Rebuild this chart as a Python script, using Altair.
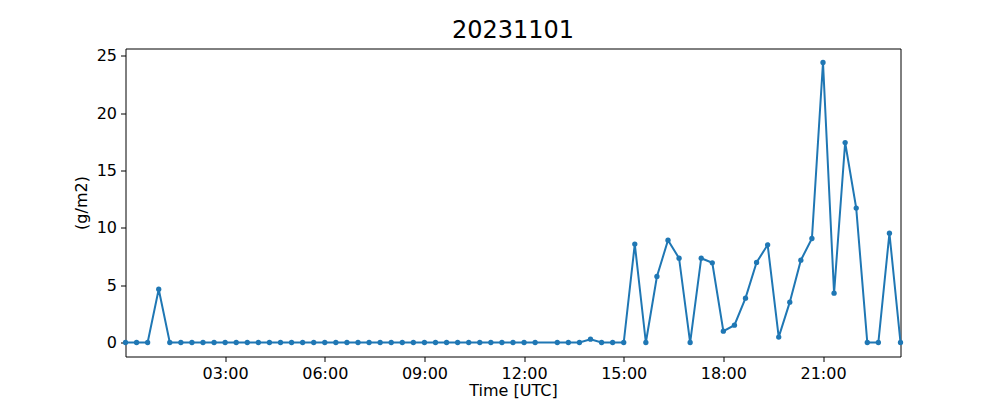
import altair as alt
import pandas as pd

times = [
    "00:00", "00:20", "00:40", "01:00", "01:20", "01:40", "02:00", "02:20", "02:40",
    "03:00", "03:20", "03:40", "04:00", "04:20", "04:40", "05:00", "05:20", "05:40",
    "06:00", "06:20", "06:40", "07:00", "07:20", "07:40", "08:00", "08:20", "08:40",
    "09:00", "09:20", "09:40", "10:00", "10:20", "10:40", "11:00", "11:20", "11:40",
    "12:00", "12:20", "13:00", "13:20", "13:40", "14:00", "14:20", "14:40",
    "15:00", "15:20", "15:40", "16:00", "16:20", "16:40", "17:00", "17:20", "17:40",
    "18:00", "18:20", "18:40", "19:00", "19:20", "19:40", "20:00", "20:20", "20:40",
    "21:00", "21:20", "21:40", "22:00", "22:20", "22:40", "23:00", "23:20",
]
values = [
    0, 0, 0, 4.65, 0, 0, 0, 0, 0,
    0, 0, 0, 0, 0, 0, 0, 0, 0,
    0, 0, 0, 0, 0, 0, 0, 0, 0,
    0, 0, 0, 0, 0, 0, 0, 0, 0,
    0, 0, 0, 0, 0, 0.29, 0, 0,
    0, 8.58, 0, 5.76, 8.92, 7.35, 0, 7.35, 6.95,
    0.99, 1.51, 3.87, 6.98, 8.52, 0.47, 3.52, 7.18, 9.07,
    24.42, 4.30, 17.44, 11.72, 0, 0, 9.53, 0,
]
x_ticks = [3, 6, 9, 12, 15, 18, 21]
y_ticks = [0, 5, 10, 15, 20, 25]

df = pd.DataFrame({"time": times, "value": values})
df["hour"] = df["time"].apply(lambda s: int(s[:2]) + int(s[3:]) / 60.0)

color = "#1f77b4"
font = "DejaVu Sans"

x = alt.X(
    "hour:Q",
    scale=alt.Scale(domain=[0, 23 + 1 / 3], nice=False, zero=False),
    axis=alt.Axis(
        values=x_ticks,
        labelExpr="(datum.value < 10 ? '0' : '') + datum.value + ':00'",
        title="Time [UTC]",
        grid=False,
        domain=False,
        tickColor="black",
        tickSize=5,
        labelPadding=4,
        titlePadding=1,
        labelFontSize=16,
        titleFontSize=16,
        titleFontWeight="normal",
        labelColor="black",
        titleColor="black",
        labelFont=font,
        titleFont=font,
    ),
)
y = alt.Y(
    "value:Q",
    scale=alt.Scale(domain=[-1.22, 25.64], nice=False, zero=False),
    axis=alt.Axis(
        values=y_ticks,
        title="(g/m2)",
        grid=False,
        domain=False,
        tickColor="black",
        tickSize=5,
        labelPadding=4,
        titlePadding=7,
        labelFontSize=16,
        titleFontSize=16,
        titleFontWeight="normal",
        labelColor="black",
        titleColor="black",
        labelFont=font,
        titleFont=font,
    ),
)

base = alt.Chart(df).encode(x=x, y=y)
line = base.mark_line(color=color, strokeWidth=2)
pts = base.mark_point(color=color, filled=True, size=28, opacity=1)

chart = (
    alt.layer(line, pts)
    .properties(
        width=775,
        height=308,
        background="white",
        title=alt.TitleParams(
            "20231101", fontSize=24, font=font, fontWeight="normal", color="black", offset=5
        ),
        autosize=alt.AutoSizeParams(type="none"),
        padding={"left": 117.5, "top": 40.5, "right": 91.5, "bottom": 43.5},
    )
    .configure_view(stroke="black", strokeWidth=1, strokeOpacity=1)
)

chart.save("out.html", embed_options={"renderer": "svg", "actions": False})
